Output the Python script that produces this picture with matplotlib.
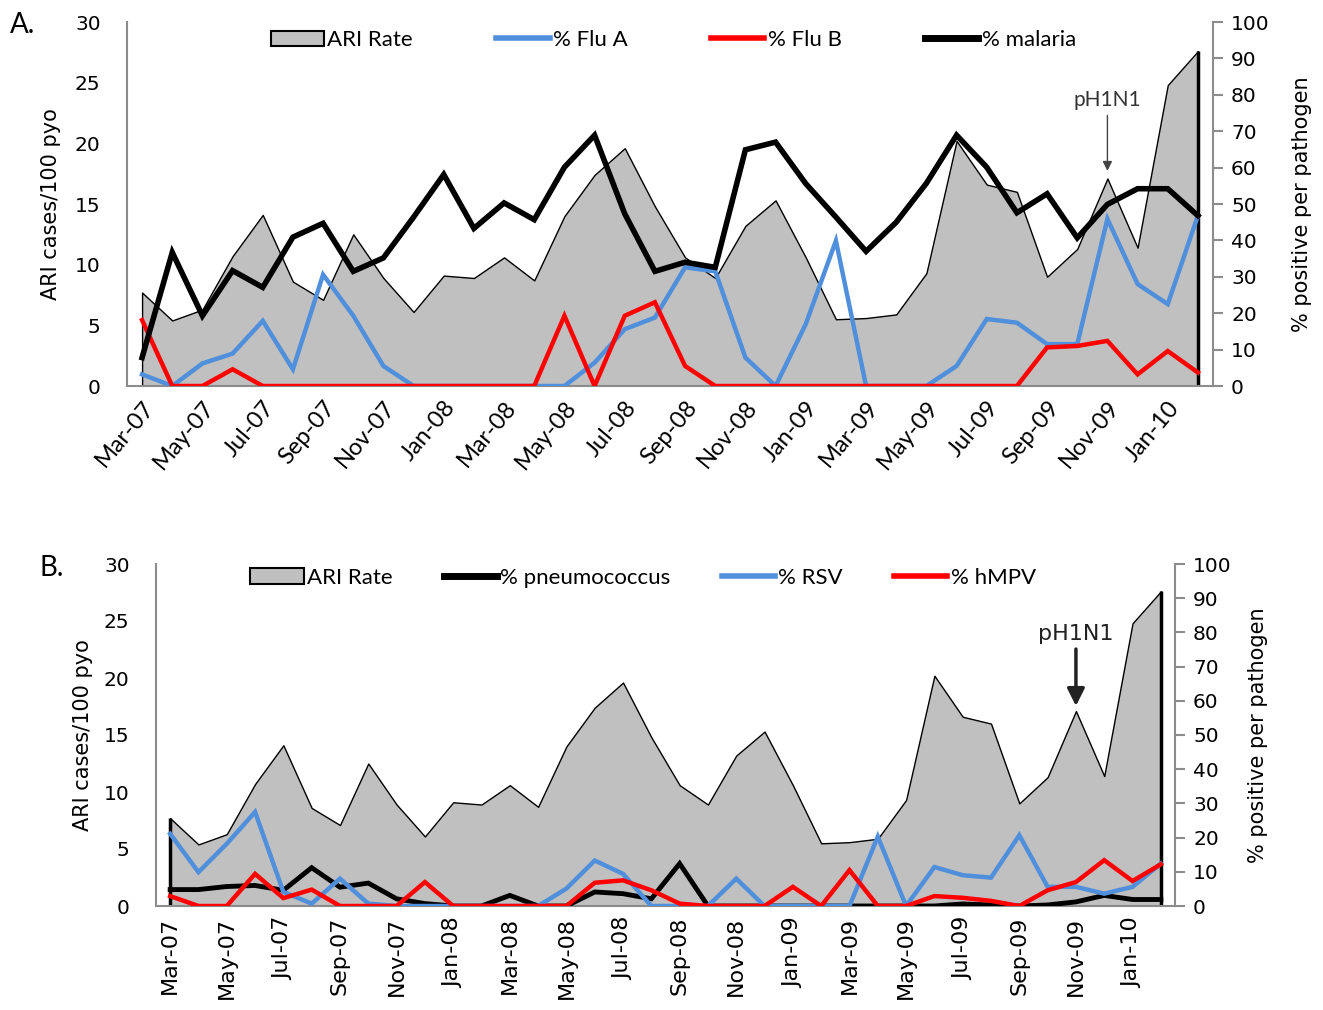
import numpy as np
import matplotlib.pyplot as plt
from matplotlib.patches import Patch
from matplotlib.lines import Line2D

# months Mar-07 .. Feb-10
months = ['Mar-07', 'Apr-07', 'May-07', 'Jun-07', 'Jul-07', 'Aug-07', 'Sep-07', 'Oct-07',
          'Nov-07', 'Dec-07', 'Jan-08', 'Feb-08', 'Mar-08', 'Apr-08', 'May-08', 'Jun-08',
          'Jul-08', 'Aug-08', 'Sep-08', 'Oct-08', 'Nov-08', 'Dec-08', 'Jan-09', 'Feb-09',
          'Mar-09', 'Apr-09', 'May-09', 'Jun-09', 'Jul-09', 'Aug-09', 'Sep-09', 'Oct-09',
          'Nov-09', 'Dec-09', 'Jan-10', 'Feb-10']

ari_rate = [7.7, 5.4, 6.3, 10.7, 14.1, 8.6, 7.1, 12.5, 8.9, 6.1, 9.1, 8.9,
            10.6, 8.7, 14.0, 17.4, 19.6, 14.8, 10.6, 8.9, 13.2, 15.3, 10.6, 5.5,
            5.6, 5.9, 9.3, 20.2, 16.6, 16.0, 9.0, 11.3, 17.1, 11.4, 24.8, 27.6]

# panel A (% positive)
flu_a = [3.2, 0, 6.2, 8.9, 17.9, 4.6, 30.6, 19.3, 5.5, 0, 0, 0,
         0, 0, 0, 6.4, 15.6, 18.8, 32.6, 31.5, 7.8, 0, 17.0, 39.9,
         0, 0, 0, 5.5, 18.4, 17.4, 11.5, 11.5, 45.9, 28.0, 22.5, 46.8]
flu_b = [18.1, 0, 0, 4.6, 0, 0, 0, 0, 0, 0, 0, 0,
         0, 0, 19.3, 0, 19.3, 23.0, 5.5, 0, 0, 0, 0, 0,
         0, 0, 0, 0, 0, 0, 10.6, 11.0, 12.4, 3.2, 9.6, 3.7]
malaria = [7.8, 36.7, 19.3, 31.7, 27.1, 40.9, 44.7, 31.5, 35.2, 46.4, 58.1, 43.3,
           50.3, 45.7, 60.1, 68.9, 47.3, 31.5, 34.0, 32.6, 64.9, 67.0, 55.6, 46.4,
           37.0, 45.0, 55.7, 68.9, 60.1, 47.6, 52.8, 40.7, 49.9, 54.2, 54.2, 46.8]

# panel B (% positive)
pneumococcus = [4.8, 4.8, 5.7, 6.0, 4.6, 11.2, 5.5, 6.7, 2.1, 0.7, 0, 0,
                3.1, 0, 0, 4.1, 3.6, 2.1, 12.4, 0, 0, 0, 0, 0,
                0, 0, 0, 0, 0.6, 0.3, 0, 0.3, 1.2, 3.1, 1.9, 1.9]
rsv = [21.1, 9.9, 18.2, 27.5, 4.1, 0.7, 8.0, 0.7, 0, 0, 0, 0,
       0, 0, 5.1, 13.3, 9.4, 0, 0, 0, 8.0, 0, 0, 0,
       0, 20.3, 0, 11.4, 9.0, 8.3, 20.7, 5.6, 5.6, 3.6, 5.6, 12.4]
hmpv = [2.9, 0, 0, 9.4, 2.3, 4.8, 0, 0, 0, 7.0, 0, 0,
        0, 0, 0, 6.8, 7.5, 4.6, 0.7, 0, 0, 0, 5.6, 0,
        10.5, 0, 0, 2.9, 2.4, 1.5, 0, 4.6, 7.0, 13.4, 7.3, 12.2]

tick_idx = list(range(0, 36, 2))
tick_labels = [months[i] for i in tick_idx]

GREY = '#c0c0c0'
BLUE = '#4f8fdb'
RED = '#ff0000'
SPINE = '#8c8c8c'

W, H = 1323, 1010
fig = plt.figure(figsize=(W / 100, H / 100), dpi=100)
x = np.arange(len(months))


def px_axes(l, t, r, b):
    return fig.add_axes([l / W, 1 - b / H, (r - l) / W, (b - t) / H])


def setup(ax, ax2, tick_font, rot, xsize):
    ax.set_xlim(-0.5, 35.5)
    ax.set_ylim(0, 30)
    ax.set_yticks(range(0, 31, 5))
    ax2.set_ylim(0, 100)
    ax2.set_yticks(range(0, 101, 10))
    for a in (ax, ax2):
        a.spines['top'].set_visible(False)
        for s in a.spines.values():
            s.set_color(SPINE)
            s.set_linewidth(1.5)
    ax.spines['right'].set_visible(False)
    ax2.spines['left'].set_visible(False)
    ax2.spines['bottom'].set_visible(False)
    ax.tick_params(axis='y', length=0, labelsize=14.5, pad=19)
    ax2.tick_params(axis='y', length=7, width=1.5, color=SPINE, labelsize=14.5, pad=6)
    ax.set_xticks(tick_idx)
    if rot == 90:
        ax.set_xticklabels(tick_labels, rotation=90, fontsize=xsize, ha='center', va='top')
    else:
        ax.set_xticklabels(tick_labels, rotation=rot, fontsize=xsize, ha='right', va='top',
                           rotation_mode='anchor', family=tick_font)
    ax.tick_params(axis='x', length=0, pad=8)


def draw_ari(ax):
    ax.fill_between(x, ari_rate, 0, facecolor=GREY, edgecolor='black', linewidth=1.0, zorder=1)
    ax.vlines([x[-1]], 0, ari_rate[-1], color='black', linewidth=2.5, zorder=2)


# ---------------- panel A ----------------
axA = px_axes(127, 22, 1213, 386)
axA2 = axA.twinx()
draw_ari(axA)
axA2.plot(x, flu_a, color=BLUE, lw=3.2, solid_joinstyle='miter')
axA2.plot(x, flu_b, color=RED, lw=3.2, solid_joinstyle='miter')
axA2.plot(x, malaria, color='black', lw=4, solid_joinstyle='miter')
setup(axA, axA2, 'Lato', 50, 17)
axA.set_ylabel('ARI cases/100 pyo', fontsize=15, labelpad=10)
axA2.set_ylabel('% positive per pathogen', fontsize=15, labelpad=16, rotation=90)

axA.annotate('pH1N1', xy=(32, ari_rate[32] + 0.4), xytext=(0, 46), textcoords='offset points',
             ha='center', va='bottom', fontsize=15, family='Lato', color='#333333',
             arrowprops=dict(arrowstyle='-|>', color='#444444', lw=1.0, mutation_scale=14))

handlesA = [Patch(facecolor=GREY, edgecolor='black', linewidth=1.5),
            Line2D([], [], color=BLUE, lw=4), Line2D([], [], color=RED, lw=4),
            Line2D([], [], color='black', lw=5)]
axA.legend(handlesA, ['ARI Rate', '% Flu A', '% Flu B', '% malaria'], ncol=4,
           loc='center', bbox_to_anchor=(0.503, 0.95), frameon=False,
           prop={'family': 'Lato', 'size': 16}, handlelength=2.4, handleheight=0.7,
           handletextpad=0.15, columnspacing=3.75)
fig.text(10 / W, 1 - 25 / H, 'A.', fontsize=20, family='Lato', va='center', ha='left')

# ---------------- panel B ----------------
axB = px_axes(156, 564, 1175, 906)
axB2 = axB.twinx()
draw_ari(axB)
axB.vlines([x[0]], 0, ari_rate[0], color='black', linewidth=2.5, zorder=2)
axB2.plot(x, pneumococcus, color='black', lw=3.5, solid_joinstyle='miter')
axB2.plot(x, rsv, color=BLUE, lw=3.2, solid_joinstyle='miter')
axB2.plot(x, hmpv, color=RED, lw=3.2, solid_joinstyle='miter')
setup(axB, axB2, 'DejaVu Sans', 90, 16)
axB.set_ylabel('ARI cases/100 pyo', fontsize=15, labelpad=8)
axB2.set_ylabel('% positive per pathogen', fontsize=15, labelpad=12, rotation=90)

axB.annotate('pH1N1', xy=(32, ari_rate[32] + 0.2), xytext=(0, 47), textcoords='offset points',
             ha='center', va='bottom', fontsize=16, family='DejaVu Sans', color='#222222',
             arrowprops=dict(arrowstyle='-|>', color='#222222', lw=2.5, mutation_scale=26))

handlesB = [Patch(facecolor=GREY, edgecolor='black', linewidth=1.5),
            Line2D([], [], color='black', lw=5), Line2D([], [], color=BLUE, lw=4),
            Line2D([], [], color=RED, lw=4)]
axB.legend(handlesB, ['ARI Rate', '% pneumococcus', '% RSV', '% hMPV'], ncol=4,
           loc='center', bbox_to_anchor=(0.478, 0.96), frameon=False,
           prop={'family': 'Lato', 'size': 16}, handlelength=2.4, handleheight=0.7,
           handletextpad=0.15, columnspacing=2.3)
fig.text(40 / W, 1 - 568 / H, 'B.', fontsize=20, family='Lato', va='center', ha='left')

fig.savefig('out.png', dpi=100)
